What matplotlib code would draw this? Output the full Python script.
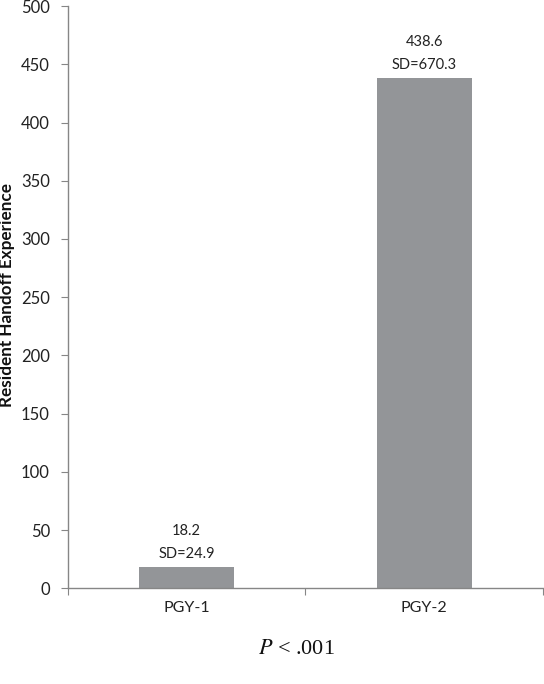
import matplotlib.pyplot as plt
import numpy as np

groups = ["PGY-1", "PGY-2"]
means = [18.2, 438.6]
sds = [24.9, 670.3]
yticks = [0, 50, 100, 150, 200, 250, 300, 350, 400, 450, 500]

plt.rcParams['font.family'] = ['Lato', 'DejaVu Sans']
plt.rcParams['mathtext.fontset'] = 'stix'

fig = plt.figure(figsize=(5.44, 6.84), dpi=100)
ax = fig.add_axes([0.125, 0.140, 0.873, 0.851])

x = np.arange(len(groups))
ax.bar(x, means, width=0.4, color="#939598", zorder=2)

for xi, m, s in zip(x, means, sds):
    ax.annotate(f"{m}\nSD={s}", (xi, m), xytext=(0, 4), textcoords="offset points",
                ha="center", va="bottom", fontsize=10.5, color="#222222", linespacing=1.85)

ax.set_xlim(-0.5, 1.5)
ax.set_ylim(0, 500)
ax.set_yticks(yticks)
ax.set_xticks([-0.5, 0.5, 1.5])
ax.set_xticklabels([])
ax.set_xticks(x, minor=True)
ax.set_xticklabels(groups, minor=True)
ax.tick_params(axis="x", which="minor", length=0, pad=9, labelsize=11.5, labelcolor="#222222")
ax.tick_params(axis="x", which="major", length=5, color="#868686", direction="out")
ax.tick_params(axis="y", length=5, color="#868686", labelsize=12, labelcolor="#222222", pad=8)

for side in ["top", "right"]:
    ax.spines[side].set_visible(False)
for side in ["left", "bottom"]:
    ax.spines[side].set_color("#868686")
    ax.spines[side].set_linewidth(1.0)

# y label placed by hand, close to the left edge
fig.text(0.013, 0.569, "Resident Handoff Experience", rotation=90, ha="center", va="center",
         fontsize=12.3, fontweight="bold", color="#111111")

fig.text(0.544, 0.05, r"$P$ < .001", ha="center", va="center", fontsize=16,
         family="Liberation Serif", color="#111111")

fig.savefig("out.png", dpi=100)
